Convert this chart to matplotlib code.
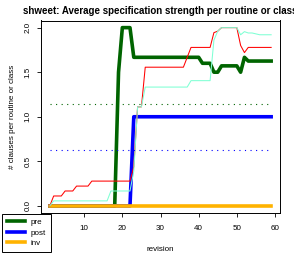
import matplotlib
matplotlib.use("Agg")
import matplotlib.pyplot as plt
import numpy as np

plt.rcParams['font.family'] = ['Liberation Sans', 'DejaVu Sans']

revision = list(range(1, 60))

# per-revision averages
pre = [0]*18 + [1.5, 2.0, 2.0, 2.0] + [1.667]*18 + [1.6]*3 + [1.5]*2 + [1.571]*5 + [1.5, 1.667] + [1.625]*7
post = [0]*22 + [1.0]*37
inv = [0]*59
red_line = ([0] + [0.111]*3 + [0.167]*3 + [0.222]*4 + [0.278]*11 + [0.44, 1.111, 1.111]
            + [1.556]*11 + [1.667] + [1.778]*6 + [1.944, 1.96] + [2.0]*5 + [1.8, 1.72] + [1.778]*7)
cyan_line = ([0] + [0.056]*15 + [0.167]*6 + [0.39, 1.111, 1.111] + [1.333]*12 + [1.405]*6
             + [1.86, 1.96] + [2.0]*5 + [1.92, 1.955, 1.94, 1.94, 1.93] + [1.92]*4)

fig = plt.figure(figsize=(2.94, 2.54), dpi=100)
ax = fig.add_axes([41/294, 1 - 213/254, 239/294, 192.5/254])

lw_thick = 2.6
l_pre, = ax.plot(revision, pre, color='#006400', lw=lw_thick, label='pre')
l_post, = ax.plot(revision, post, color='#0000FF', lw=lw_thick, label='post')
l_inv, = ax.plot(revision, inv, color='#FFB300', lw=lw_thick, label='inv')
ax.plot(revision, red_line, color='#FF0000', lw=0.75)
ax.plot(revision, cyan_line, color='#7FFFD4', lw=0.75)

# dotted means
ax.plot([revision[0], revision[-1]], [np.mean(pre)]*2, color='#006400', lw=0.8, linestyle=(0, (1, 4)))
ax.plot([revision[0], revision[-1]], [np.mean(post)]*2, color='#0000FF', lw=0.8, linestyle=(0, (1, 4)))

ax.set_xlim(-1.32, 61.32)
ax.set_ylim(-0.08, 2.08)
# the 0 tick sits under the legend box
ax.set_xticks([10, 20, 30, 40, 50, 60])
ax.set_yticks([0.0, 0.5, 1.0, 1.5, 2.0])
ax.set_yticklabels(['0.0', '0.5', '1.0', '1.5', '2.0'], rotation=90, va='center')
ax.tick_params(direction='out', length=2.6, width=0.6, labelsize=5.8, colors='black')
ax.tick_params(axis='x', pad=6)
ax.tick_params(axis='y', pad=4)
for s in ax.spines.values():
    s.set_linewidth(0.7)

ax.set_xlabel('revision', fontsize=5.8, labelpad=10)
ax.set_ylabel('# clauses per routine or class', fontsize=5.8, labelpad=6.5)
ax.set_title('shweet: Average specification strength per routine or class',
             fontsize=7, fontweight='bold', pad=5)

leg = fig.legend(handles=[l_pre, l_post, l_inv], loc='lower left',
                 bbox_to_anchor=(2/294, 2/254), fontsize=5.8, fancybox=False,
                 edgecolor='black', framealpha=1, handlelength=2.3,
                 handletextpad=0.7, labelspacing=0.35, borderpad=0.6, borderaxespad=0)
leg.get_frame().set_linewidth(0.7)

fig.savefig('out.png', dpi=100)
